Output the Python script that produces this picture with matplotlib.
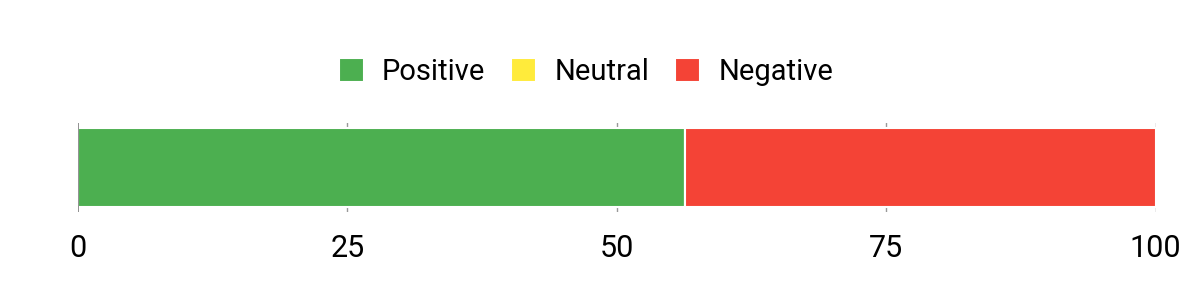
import matplotlib.pyplot as plt
import numpy as np

plt.rcParams['font.family'] = ['Roboto', 'DejaVu Sans']

# Données
categories = ['Positive', 'Neutral', 'Negative']
values = [56.3, 0.0, 43.7]
colors = ['#4CAF50', '#FFEB3B', '#F44336']
ticks = [0, 25, 50, 75, 100]

fig = plt.figure(figsize=(12, 3), dpi=100)
ax = fig.add_axes([78 / 1200, 1 - 212 / 300, (1155.5 - 78) / 1200, 89 / 300])

left = 0
handles = []
for cat, val, col in zip(categories, values, colors):
    b = ax.barh([0], [val], left=left, height=0.89, color=col,
                edgecolor='white', linewidth=1.5, label=cat)
    handles.append(b)
    left += val

ax.set_xlim(0, 100)
ax.set_ylim(-0.5, 0.5)
ax.set_yticks([])
ax.set_xticks(ticks)
ax.set_xticklabels([str(t) for t in ticks], fontsize=22)
ax.tick_params(axis='x', length=0, pad=16)
for t in ticks[1:]:
    ax.axvline(t, color='#999999', linewidth=1, zorder=0)
ax.axvline(0, color='#888888', linewidth=1.3, zorder=3)
for s in ax.spines.values():
    s.set_visible(False)

fig.legend(handles=handles, labels=categories, loc='center',
           bbox_to_anchor=(586 / 1200, 1 - 72 / 300), ncol=3, frameon=False,
           fontsize=21, handlelength=0.85, handleheight=0.85,
           handletextpad=0.62, columnspacing=0.9)

plt.savefig('out.png', dpi=100)
